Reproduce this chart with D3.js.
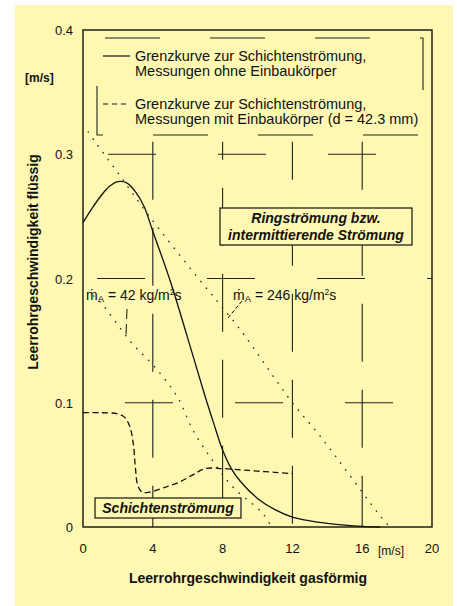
<!DOCTYPE html>
<html>
<head>
<meta charset="utf-8">
<script src="https://cdn.jsdelivr.net/npm/d3@7"></script>
<style>
  body { margin: 0; background: #fff; }
  text { font-family: "Liberation Sans", Arial, sans-serif; fill: #111; }
</style>
</head>
<body>
<svg width="457" height="606"></svg>
<script>
// values
var xTicks = [0, 4, 8, 12, 16, 20];
var yTicks = [0, 0.1, 0.2, 0.3, 0.4];
var yTickLabels = ["0", "0.1", "0.2", "0.3", "0.4"];

// Grenzkurve, Messungen ohne Einbaukörper (solid)
var ohneX = [0, 0.5, 1, 1.5, 2, 2.5, 3, 3.5, 4, 5, 6, 7, 7.5, 8, 8.5, 9, 10, 11, 12, 13, 14, 15, 16, 17];
var ohneY = [0.245, 0.256, 0.266, 0.274, 0.278, 0.277, 0.27, 0.258, 0.238, 0.198, 0.152, 0.105, 0.083, 0.062, 0.047, 0.037, 0.023, 0.014, 0.008, 0.005, 0.003, 0.0015, 0.0005, 0];

// Grenzkurve, Messungen mit Einbaukörper (dashed)
var mitX = [0, 1, 2, 2.4, 2.7, 2.9, 3.0, 3.15, 3.4, 3.8, 4.5, 5.5, 6.3, 7, 8, 9, 10, 11, 12];
var mitY = [0.092, 0.092, 0.091, 0.088, 0.08, 0.065, 0.048, 0.033, 0.028, 0.028, 0.031, 0.036, 0.042, 0.047, 0.047, 0.046, 0.045, 0.044, 0.043];

// dotted lines, mA = 42 and mA = 246 kg/m2s
var m42X = [0.6, 1.0, 2.8, 4.1, 5.4, 6.3, 7.4, 8.6, 10.3, 10.8];
var m42Y = [0.186, 0.181, 0.148, 0.129, 0.105, 0.078, 0.054, 0.032, 0.011, 0];
var m246X = [0.3, 0.7, 2.0, 3.7, 6.5, 9.0, 12.0, 13.6, 17.2, 17.6];
var m246Y = [0.318, 0.31, 0.285, 0.252, 0.202, 0.159, 0.1, 0.073, 0.006, 0];

var svg = d3.select("svg");

svg.append("rect").attr("x", 15).attr("y", 5).attr("width", 438).attr("height", 601).attr("fill", "#fff8b2");

var x = d3.scaleLinear().domain([0, 20]).range([83, 432]);
var y = d3.scaleLinear().domain([0, 0.4]).range([527, 30]);

// dashed grid
var grid = svg.append("g").attr("stroke", "#222").attr("stroke-width", 1.1).attr("fill", "none");
grid.selectAll("line.v").data([4, 8, 12, 16]).enter().append("line")
  .attr("x1", d => x(d)).attr("x2", d => x(d))
  .attr("y1", y(0.31)).attr("y2", y(0))
  .attr("stroke-dasharray", "58,28")
  .attr("stroke-dashoffset", (d, i) => [0, 40, 20, 10][i]);
grid.selectAll("line.h").data([0.1, 0.2, 0.3]).enter().append("line")
  .attr("x1", x(0)).attr("x2", x(20))
  .attr("y1", d => y(d)).attr("y2", d => y(d))
  .attr("stroke-dasharray", "48,62")
  .attr("stroke-dashoffset", (d, i) => [-42, -14, -25][i]);
// dashed box round the legend
grid.append("rect").attr("x", 97).attr("y", 38).attr("width", 326).attr("height", 97)
  .attr("stroke-dasharray", "55,50").attr("stroke-dashoffset", -8);

// frame
svg.append("rect").attr("x", x(0)).attr("y", y(0.4))
  .attr("width", x(20) - x(0)).attr("height", y(0) - y(0.4))
  .attr("fill", "none").attr("stroke", "#111").attr("stroke-width", 1.4);

// tick labels
svg.selectAll("text.yt").data(yTicks).enter().append("text")
  .attr("x", 73).attr("y", d => y(d) + 5).attr("text-anchor", "end")
  .attr("font-size", 13).text((d, i) => yTickLabels[i]);
svg.selectAll("text.xt").data(xTicks).enter().append("text")
  .attr("x", d => x(d)).attr("y", 553).attr("text-anchor", "middle")
  .attr("font-size", 13).text(d => d);
svg.append("text").attr("x", 378).attr("y", 555).attr("font-size", 12).text("[m/s]");
svg.append("text").attr("x", 25).attr("y", 82).attr("font-size", 12).attr("font-weight", "bold").text("[m/s]");

// axis titles
svg.append("text").attr("x", 248).attr("y", 583).attr("text-anchor", "middle")
  .attr("font-size", 14).attr("font-weight", "bold").text("Leerrohrgeschwindigkeit gasförmig");
svg.append("text").attr("transform", "translate(38,262) rotate(-90)").attr("text-anchor", "middle")
  .attr("font-size", 14).attr("font-weight", "bold").text("Leerrohrgeschwindigkeit flüssig");

var line = d3.line().x(d => x(d[0])).y(d => y(d[1])).curve(d3.curveCatmullRom);
var zip = (a, b) => a.map((v, i) => [v, b[i]]);

svg.append("path").attr("d", line(zip(m42X, m42Y))).attr("fill", "none").attr("stroke", "#333")
  .attr("stroke-width", 1.4).attr("stroke-linecap", "round").attr("stroke-dasharray", "0.5,8");
svg.append("path").attr("d", line(zip(m246X, m246Y))).attr("fill", "none").attr("stroke", "#333")
  .attr("stroke-width", 1.4).attr("stroke-linecap", "round").attr("stroke-dasharray", "0.5,8");
svg.append("path").attr("d", line(zip(ohneX, ohneY))).attr("fill", "none").attr("stroke", "#111").attr("stroke-width", 1.3);
svg.append("path").attr("d", line(zip(mitX, mitY))).attr("fill", "none").attr("stroke", "#111")
  .attr("stroke-width", 1.3).attr("stroke-dasharray", "6,3.5");

// legend
var lg = svg.append("g").attr("font-size", 14.5);
lg.append("line").attr("x1", 103).attr("x2", 130).attr("y1", 56).attr("y2", 56).attr("stroke", "#111").attr("stroke-width", 1.2);
lg.append("line").attr("x1", 103).attr("x2", 130).attr("y1", 104).attr("y2", 104).attr("stroke", "#111").attr("stroke-width", 1.2).attr("stroke-dasharray", "5,4");
lg.append("text").attr("x", 135).attr("y", 61).text("Grenzkurve zur Schichtenströmung,");
lg.append("text").attr("x", 135).attr("y", 76).text("Messungen ohne Einbaukörper");
lg.append("text").attr("x", 135).attr("y", 109).text("Grenzkurve zur Schichtenströmung,");
lg.append("text").attr("x", 135).attr("y", 124).text("Messungen mit Einbaukörper (d = 42.3 mm)");

// mass flux labels
function massLabel(px, py, val) {
  var t = svg.append("text").attr("x", px).attr("y", py).attr("font-size", 14);
  t.append("tspan").text("ṁ");
  t.append("tspan").attr("font-size", 9.5).attr("dy", 2).text("A");
  t.append("tspan").attr("dy", -2).text(" = " + val + " kg/m");
  t.append("tspan").attr("font-size", 8.5).attr("dy", -5).text("2");
  t.append("tspan").attr("dy", 5).text("s");
}
massLabel(86, 300, 42);
massLabel(233, 300, 246);
svg.append("line").attr("x1", 127).attr("x2", 126).attr("y1", 309).attr("y2", 335)
  .attr("stroke", "#111").attr("stroke-dasharray", "10,5");
svg.append("line").attr("x1", 242).attr("x2", 228).attr("y1", 301).attr("y2", 318)
  .attr("stroke", "#111").attr("stroke-dasharray", "4,2");

// region boxes
svg.append("rect").attr("x", 220).attr("y", 208).attr("width", 192).attr("height", 37)
  .attr("fill", "#fff8b2").attr("stroke", "#111").attr("stroke-width", 1.2);
svg.append("text").attr("x", 316).attr("y", 223).attr("text-anchor", "middle").attr("font-size", 14)
  .attr("font-weight", "bold").attr("font-style", "italic").text("Ringströmung bzw.");
svg.append("text").attr("x", 316).attr("y", 240).attr("text-anchor", "middle").attr("font-size", 14)
  .attr("font-weight", "bold").attr("font-style", "italic").text("intermittierende Strömung");
svg.append("rect").attr("x", 95).attr("y", 498).attr("width", 146).attr("height", 20)
  .attr("fill", "#fff8b2").attr("stroke", "#111").attr("stroke-width", 1.2);
svg.append("text").attr("x", 168).attr("y", 513).attr("text-anchor", "middle").attr("font-size", 14)
  .attr("font-weight", "bold").attr("font-style", "italic").text("Schichtenströmung");
</script>
</body>
</html>
